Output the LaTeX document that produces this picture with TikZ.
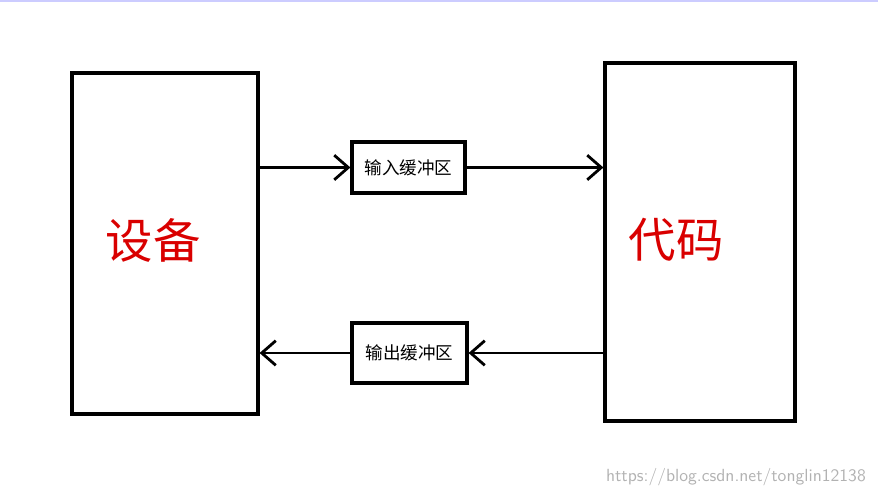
\documentclass[tikz,border=0pt]{standalone}
\usepackage{fontspec}
\newfontfamily\cjk{Noto Sans CJK SC}
\usetikzlibrary{arrows.meta}
\begin{document}
\begin{tikzpicture}[x=0.02cm,y=-0.02cm,
  bigbox/.style={draw, line width=1.8pt, inner sep=0pt},
  buf/.style={draw, line width=1.8pt, font=\cjk\fontsize{10}{12}\selectfont},
  flow/.style={line width=1.6pt, -{Straight Barb[length=8pt,width=14pt]}},
  big/.style={red!85!black, font=\cjk\fontsize{27}{32}\selectfont}]
\useasboundingbox (0,0) rectangle (878,500);
\draw[blue!20, line width=1pt] (0,1) -- (878,1);
\node[bigbox, minimum width=186*0.02cm, minimum height=341*0.02cm] (dev) at (165,243.5) {};
\node[bigbox, minimum width=190*0.02cm, minimum height=358*0.02cm] (code) at (700,242) {};
\node[big] (devl) at (153,240) {设备};
\node[big] (codel) at (676,240) {代码};
\node[buf, minimum width=113*0.02cm, minimum height=51*0.02cm] (in) at (408.5,167.5) {输入缓冲区};
\node[buf, minimum width=115*0.02cm, minimum height=60*0.02cm] (out) at (409.5,353) {输出缓冲区};
\draw[flow] (dev.east |- in.west) -- (in.west);
\draw[flow] (in.east) -- (code.west |- in.east);
\draw[flow] (code.west |- out.east) -- (out.east);
\draw[flow] (out.west) -- (dev.east |- out.west);
\node[gray!60, anchor=south east, font=\sffamily\fontsize{10}{12}\selectfont] (wm) at (872,492) {https://blog.csdn.net/tonglin12138};
\end{tikzpicture}
\end{document}
